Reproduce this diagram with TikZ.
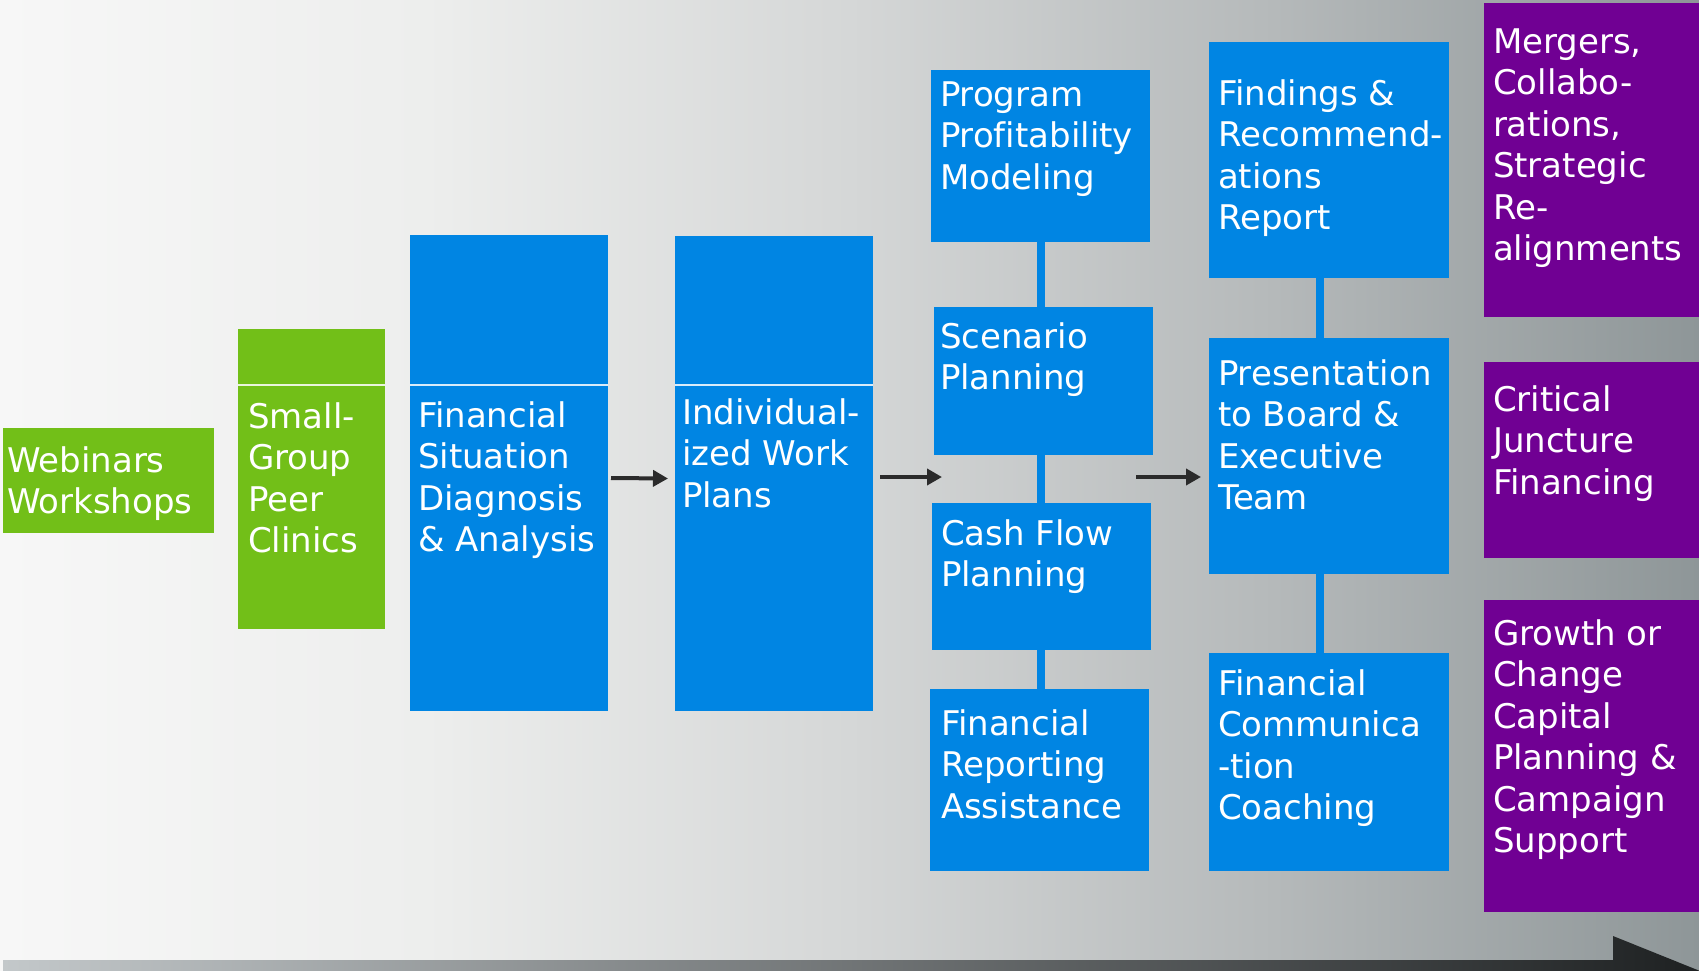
\documentclass[tikz,border=0pt]{standalone}
\usepackage{fontspec}
\setmainfont{DejaVu Sans}[Ligatures=CommonOff]
\usetikzlibrary{arrows.meta}
\definecolor{bluebx}{RGB}{0,133,227}
\definecolor{greenbx}{RGB}{114,191,24}
\definecolor{purplebx}{RGB}{112,0,147}
\definecolor{arrowc}{RGB}{43,43,43}
\definecolor{bgA}{RGB}{247,247,247}
\definecolor{bgB}{RGB}{237,238,237}
\definecolor{bgC}{RGB}{213,215,215}
\definecolor{bgD}{RGB}{181,185,186}
\definecolor{bgE}{RGB}{142,150,152}
\definecolor{barleft}{RGB}{195,200,202}
\definecolor{barright}{RGB}{30,33,34}
\pgfdeclarehorizontalshading{bgshade}{100bp}{color(0bp)=(bgA); color(25bp)=(bgA); color(37.5bp)=(bgB); color(50bp)=(bgC); color(62.5bp)=(bgD); color(75bp)=(bgE); color(100bp)=(bgE)}
\newcommand\mkbox[6]{\node[#1,anchor=north west,minimum width={(#5-#3)*1pt},minimum height={(#6-#4)*1pt}] (#2) at (#3,#4) {};}
\newcommand\mktxt[4]{\node[txt] (#1) at (#2,#3-30) {\rule{0pt}{30pt}#4};}
\tikzset{
  bx/.style={inner sep=0pt,outer sep=0pt,draw=none},
  bbox/.style={bx,fill=bluebx},
  gbox/.style={bx,fill=greenbx},
  pbox/.style={bx,fill=purplebx},
  txt/.style={anchor=north west,inner sep=0pt,outer sep=0pt,align=left,text=white,font=\fontsize{34}{41.5}\selectfont},
  conn/.style={draw=bluebx,line width=8pt},
  arr/.style={draw=arrowc,line width=4pt,-{Triangle[length=15pt,width=16pt]}},
  div/.style={draw=white,line width=1.2pt,opacity=0.85}
}
\begin{document}
\begin{tikzpicture}[x=1pt,y=-1pt]
\useasboundingbox (0,0) rectangle (1699,971);
\shade[shading=bgshade] (0,0) rectangle (1699,971);
% bottom timeline arrow
\shade[left color=barleft,right color=barright] (3,960) -- (1613,960) -- (1613,936) -- (1700,971) -- (3,971) -- cycle;
% boxes
\mkbox{gbox}{web}{3}{428}{214}{533}
\mkbox{gbox}{sg}{238}{329}{385}{629}
\mkbox{bbox}{fin}{410}{235}{608}{711}
\mkbox{bbox}{ind}{675}{236}{873}{711}
\mkbox{bbox}{prog}{931}{70}{1150}{242}
\mkbox{bbox}{scen}{934}{307}{1153}{455}
\mkbox{bbox}{cash}{932}{503}{1151}{650}
\mkbox{bbox}{frep}{930}{689}{1149}{871}
\mkbox{bbox}{find}{1209}{42}{1449}{278}
\mkbox{bbox}{pres}{1209}{338}{1449}{574}
\mkbox{bbox}{fcom}{1209}{653}{1449}{871}
\mkbox{pbox}{mer}{1484}{3}{1699}{317}
\mkbox{pbox}{crit}{1484}{362}{1699}{558}
\mkbox{pbox}{grow}{1484}{600}{1699}{912}
% divider lines
\draw[div] (sg.west |- 0,385) -- (sg.east |- 0,385);
\draw[div] (fin.west |- 0,385) -- (fin.east |- 0,385);
\draw[div] (ind.west |- 0,385) -- (ind.east |- 0,385);
% vertical connectors
\draw[conn] (prog.south) -- (prog.south |- scen.north);
\draw[conn] (scen.south -| prog.south) -- (cash.north -| prog.south);
\draw[conn] (cash.south -| prog.south) -- (frep.north -| prog.south);
\draw[conn] ([xshift=-9pt]find.south) -- ([xshift=-9pt]find.south |- pres.north);
\draw[conn] ([xshift=-9pt]pres.south) -- ([xshift=-9pt]pres.south |- fcom.north);
% arrows
\coordinate (a2e) at (942,477);
\coordinate (a3s) at (1136,477);
\draw[arr] ([shift={(3,5)}]fin.east) -- ([shift={(-7,5)}]ind.west);
\draw[arr] ([shift={(7,3.5)}]ind.east) -- (a2e);
\draw[arr] (a3s) -- ([shift={(-8,21)}]pres.west);
% texts
\mktxt{webt}{7}{472}{Webinars\\Workshops}
\mktxt{sgt}{248}{428}{Small-\\Group\\Peer\\Clinics}
\mktxt{fint}{418}{427}{Financial\\Situation\\Diagnosis\\\& Analysis}
\mktxt{indt}{682}{424}{Individual-\\ized Work\\Plans}
\mktxt{progt}{940}{106}{Program\\Profitability\\Modeling}
\mktxt{scent}{940}{348}{Scenario\\Planning}
\mktxt{casht}{941}{545}{Cash Flow\\Planning}
\mktxt{frept}{941}{735}{Financial\\Reporting\\Assistance}
\mktxt{findt}{1218}{105}{Findings \&\\Recommend-\\ations\\Report}
\mktxt{prest}{1218}{385}{Presentation\\to Board \&\\Executive\\Team}
\mktxt{fcomt}{1218}{695}{Financial\\Communica\\-tion\\Coaching}
\mktxt{mert}{1493}{53}{Mergers,\\Collabo-\\rations,\\Strategic\\Re-\\alignments}
\mktxt{critt}{1493}{411}{Critical\\Juncture\\Financing}
\mktxt{growt}{1493}{645}{Growth or\\Change\\Capital\\Planning \&\\Campaign\\Support}
\end{tikzpicture}
\end{document}
